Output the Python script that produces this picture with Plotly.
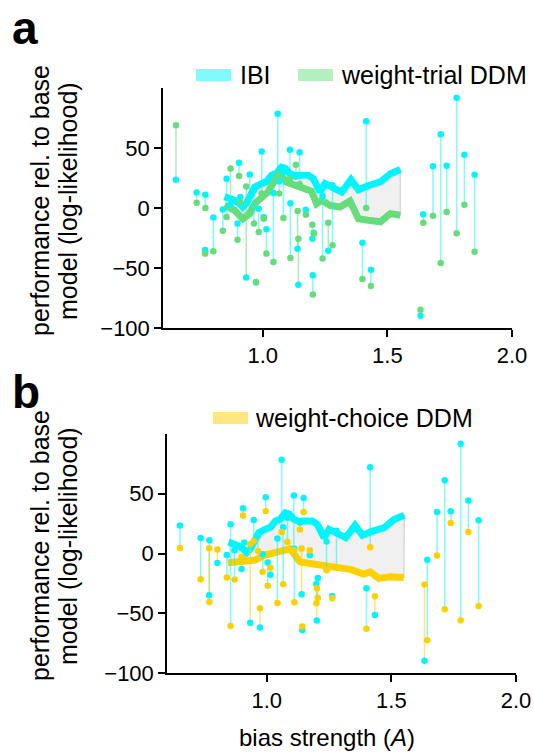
import plotly.graph_objects as go

# ---------------- data ----------------
subject_x = [0.652, 0.735, 0.769, 0.770, 0.802, 0.840, 0.855, 0.871, 0.899, 0.905,
             0.910, 0.934, 0.948, 0.965, 0.973, 0.984, 0.996, 1.004, 1.015, 1.043,
             1.060, 1.066, 1.083, 1.109, 1.111, 1.133, 1.140, 1.143, 1.148, 1.173,
             1.199, 1.201, 1.205, 1.240, 1.263, 1.280, 1.400, 1.415, 1.434, 1.633,
             1.644, 1.683, 1.714, 1.738, 1.778, 1.809, 1.850]
ibi = [23.5, 13.0, -35.0, 11.0, -8.0, -1.3, 24.4, 2.8, -13.0, 37.8,
       9.2, -58.0, 28.0, 15.0, -62.0, -0.7, 47.0, -7.5, -17.8, 12.5,
       78.5, 22.0, 30.0, 48.5, 4.0, 26.0, -34.0, -64.0, 46.5, -1.4,
       -25.6, -56.0, -20.6, 10.0, -35.6, 19.0, -29.0, 72.2, -51.4, -89.7,
       -5.3, 34.7, 61.4, 35.3, 91.9, 44.4, 27.8]
trial_ddm = [69.0, 4.4, -38.0, 0.0, -36.0, -19.0, -7.5, 33.0, -26.4, 26.7,
             5.0, 18.0, -4.0, -13.0, -61.7, -20.0, 12.0, -8.9, -38.0, -45.0,
             28.0, 12.0, -8.3, 24.0, -41.7, 36.0, -2.5, -25.6, 20.0, -5.6,
             -14.0, -72.0, -21.5, -42.0, -12.2, -31.0, -59.2, 0.0, -65.0, -84.7,
             -12.2, -6.4, -45.8, -3.3, -21.1, 2.8, -36.4]
choice_ddm = [4.7, -21.5, 4.4, -40.6, 3.3, -20.0, -60.7, -21.7, -3.0, 31.7,
              -5.0, 8.0, 10.3, 2.0, -45.8, -15.3, 35.5, -27.0, -12.0, -41.4,
              18.0, -25.8, 9.7, 2.8, -40.8, 20.0, 4.2, -61.0, 34.7, 2.8,
              -41.7, -29.0, -37.0, -14.0, -37.5, -12.0, -63.0, 5.3, -35.8, -26.0,
              -72.5, -1.7, -46.7, 25.5, -55.8, 18.0, -43.9]

# running-average curves
ibi_curve_x = [0.847, 0.870, 0.887, 0.905, 0.920, 0.935, 0.948, 0.968, 0.995, 1.015, 1.035,
               1.055, 1.075, 1.090, 1.109, 1.130, 1.149, 1.183, 1.203, 1.230, 1.250,
               1.284, 1.317, 1.354, 1.384, 1.425, 1.472, 1.512, 1.552]
ibi_curve_y = [9.5, 8.0, 6.4, 4.0, 0.8, 4.0, 10.5, 17.5, 20.3, 22.0, 27.2,
               29.0, 34.0, 33.0, 28.6, 27.0, 27.2, 27.2, 24.4, 13.3, 20.3,
               16.0, 13.3, 23.6, 15.3, 18.8, 21.7, 28.6, 32.0]
trial_curve_x = [0.847, 0.887, 0.920, 0.948, 0.968, 0.995, 1.021, 1.048, 1.075, 1.095,
                 1.129, 1.162, 1.196, 1.216, 1.237, 1.270, 1.310, 1.350, 1.384, 1.431,
                 1.472, 1.512, 1.552]
trial_curve_y = [2.2, -2.0, -9.0, -4.7, 3.6, 7.8, 13.3, 23.0, 27.0, 21.7,
                 18.8, 16.0, 14.0, 3.6, 6.4, 2.2, 0.8, 5.8, -9.0, -10.5,
                 -11.5, -4.7, -6.0]
choice_curve_x = [0.844, 0.911, 0.952, 0.992, 1.032, 1.073, 1.093, 1.133, 1.173, 1.254,
                  1.335, 1.388, 1.415, 1.449, 1.496, 1.550]
choice_curve_y = [-7.8, -7.0, -5.6, -1.4, 0.0, 2.8, 4.0, -7.0, -8.3, -10.6,
                  -13.3, -17.2, -15.4, -20.8, -19.4, -20.0]

x_ticks = [1.0, 1.5, 2.0]
y_ticks = [50, 0, -50, -100]

# ---------------- styling ----------------
W, H = 534, 752
FONT = "Liberation Sans, Arial, Helvetica, sans-serif"
CYAN = "#00F5FF"
CYAN_A = "rgba(0,245,255,0.5)"
GREEN = "#66DD7A"
GREEN_A = "rgba(102,221,122,0.55)"
GOLD = "#FFD000"
GOLD_A = "rgba(255,208,0,0.55)"


def PX(px):
    return px / W


def PY(py):
    return 1 - py / H


fig = go.Figure()

panels = [
    dict(xa="x", ya="y", ddm=trial_ddm, cx=trial_curve_x, cy=trial_curve_y,
         col=GREEN, cola=GREEN_A),
    dict(xa="x2", ya="y2", ddm=choice_ddm, cx=choice_curve_x, cy=choice_curve_y,
         col=GOLD, cola=GOLD_A),
]

for p in panels:
    xa, ya = p["xa"], p["ya"]
    # shaded area between the two running averages
    fig.add_trace(go.Scatter(
        x=ibi_curve_x + p["cx"][::-1], y=ibi_curve_y + p["cy"][::-1],
        fill="toself", fillcolor="#F0F0F0", mode="lines",
        line=dict(color="#D8D8D8", width=1.5), xaxis=xa, yaxis=ya,
        hoverinfo="skip", showlegend=False))
    # thick running averages
    fig.add_trace(go.Scatter(x=ibi_curve_x, y=ibi_curve_y, mode="lines",
                             line=dict(color=CYAN, width=7), xaxis=xa, yaxis=ya,
                             showlegend=False))
    fig.add_trace(go.Scatter(x=p["cx"], y=p["cy"], mode="lines",
                             line=dict(color=p["col"], width=7), xaxis=xa, yaxis=ya,
                             showlegend=False))
    # connectors, coloured by the better model
    lx_c, ly_c, lx_d, ly_d = [], [], [], []
    for xv, a, b in zip(subject_x, ibi, p["ddm"]):
        if a >= b:
            lx_c += [xv, xv, None]
            ly_c += [a, b, None]
        else:
            lx_d += [xv, xv, None]
            ly_d += [a, b, None]
    fig.add_trace(go.Scatter(x=lx_c, y=ly_c, mode="lines",
                             line=dict(color=CYAN_A, width=1.5), xaxis=xa, yaxis=ya,
                             showlegend=False))
    fig.add_trace(go.Scatter(x=lx_d, y=ly_d, mode="lines",
                             line=dict(color=p["cola"], width=1.5), xaxis=xa, yaxis=ya,
                             showlegend=False))
    # points
    fig.add_trace(go.Scatter(x=subject_x, y=ibi, mode="markers",
                             marker=dict(color=CYAN, size=6.5), xaxis=xa, yaxis=ya,
                             showlegend=False))
    fig.add_trace(go.Scatter(x=subject_x, y=p["ddm"], mode="markers",
                             marker=dict(color=p["col"], size=6.5), xaxis=xa, yaxis=ya,
                             showlegend=False))

axis_common = dict(showline=True, linecolor="black", linewidth=1.5, ticks="outside",
                   ticklen=7, tickwidth=1.5, tickcolor="black", showgrid=False,
                   zeroline=False, automargin=False,
                   tickfont=dict(family=FONT, size=22, color="black"))

fig.update_layout(
    width=W, height=H, margin=dict(l=0, r=0, t=0, b=0, autoexpand=False),
    paper_bgcolor="white", plot_bgcolor="white", showlegend=False,
    xaxis=dict(domain=[PX(163), PX(512)], range=[0.6, 2.0], tickvals=x_ticks,
               tickformat=".1f", anchor="y", **axis_common),
    yaxis=dict(domain=[PY(328), PY(88)], range=[-100, 100], tickvals=y_ticks,
               anchor="x", **axis_common),
    xaxis2=dict(domain=[PX(167), PX(516)], range=[0.6, 2.0], tickvals=x_ticks,
                tickformat=".1f", anchor="y2", **axis_common),
    yaxis2=dict(domain=[PY(673), PY(434)], range=[-100, 100], tickvals=y_ticks,
                anchor="x2", **axis_common),
)

shapes = []
annotations = []


def legend_item(x0, x1, yc, color, text, tx):
    shapes.append(dict(type="rect", xref="paper", yref="paper",
                       x0=PX(x0), x1=PX(x1), y0=PY(yc + 6), y1=PY(yc - 6),
                       fillcolor=color, line=dict(width=0)))
    annotations.append(dict(xref="paper", yref="paper", x=PX(tx), y=PY(yc),
                            xanchor="left", yanchor="middle", showarrow=False,
                            text=text, font=dict(family=FONT, size=25, color="black")))


legend_item(196, 231, 75, "#80FAFF", "IBI", 238)
legend_item(298, 333, 75, "#B2F0BE", "weight-trial DDM", 339)
legend_item(213, 248, 418, "#FFE680", "weight-choice DDM", 253)

for lbl, py in [("a", 28), ("b", 392)]:
    annotations.append(dict(xref="paper", yref="paper", x=PX(10), y=PY(py),
                            xanchor="left", yanchor="middle", showarrow=False,
                            text="<b>%s</b>" % lbl,
                            font=dict(family=FONT, size=46, color="black")))

for pyc in [201, 546]:
    for xc, line in [(40, "performance rel. to base"), (68, "model (log-likelihood)")]:
        annotations.append(dict(xref="paper", yref="paper", x=PX(xc), y=PY(pyc),
                                xanchor="center", yanchor="middle", showarrow=False,
                                textangle=-90, text=line,
                                font=dict(family=FONT, size=25, color="black")))

annotations.append(dict(xref="paper", yref="paper", x=PX(327), y=PY(737),
                        xanchor="center", yanchor="middle", showarrow=False,
                        text="bias strength (<i>A</i>)",
                        font=dict(family=FONT, size=24, color="black")))

fig.update_layout(shapes=shapes, annotations=annotations)
fig.write_html("out.html")
